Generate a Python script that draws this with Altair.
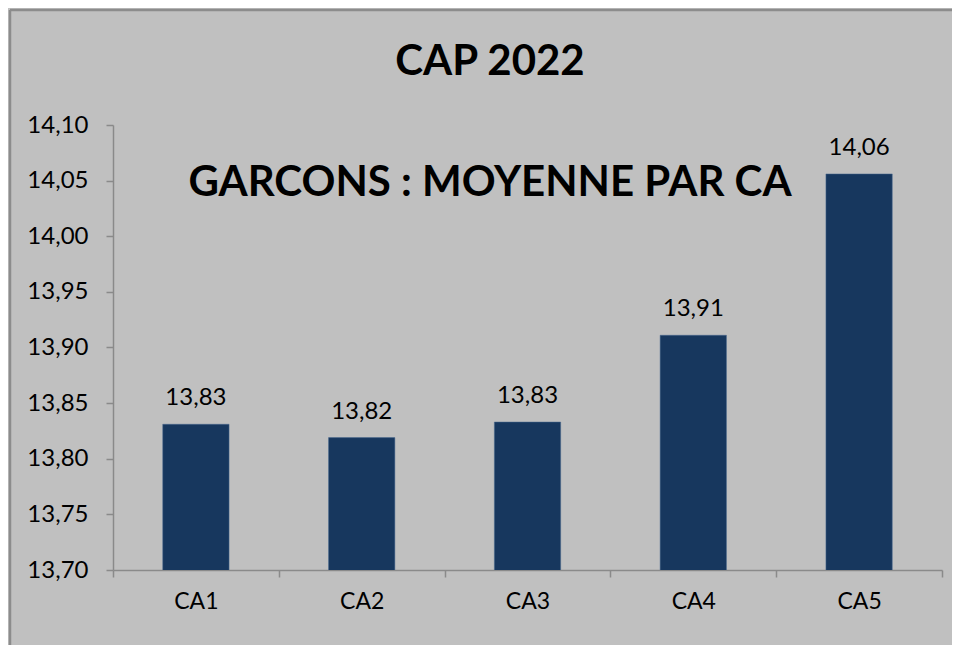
import altair as alt
import pandas as pd

categories = ["CA1", "CA2", "CA3", "CA4", "CA5"]
values = [13.831, 13.819, 13.833, 13.911, 14.056]
labels = ["13,83", "13,82", "13,83", "13,91", "14,06"]
y_ticks = [13.70, 13.75, 13.80, 13.85, 13.90, 13.95, 14.00, 14.05, 14.10]
title_text = "CAP 2022"
subtitle_text = "GARCONS : MOYENNE PAR CA"

df = pd.DataFrame({"ca": categories, "moyenne": values, "label": labels})

FONT = "Lato"
W, H = 829, 445

x_enc = alt.X("ca:N", sort=categories, title=None,
              scale=alt.Scale(paddingInner=0, paddingOuter=0),
              axis=alt.Axis(labelAngle=0, labelFontSize=23, labelFont=FONT, labelColor="black",
                            labelPadding=13, tickBand="extent", tickSize=7, tickColor="#8a8a8a",
                            domainColor="#8a8a8a", domainWidth=1.5, tickWidth=1.5))
y_enc = alt.Y("moyenne:Q", title=None,
              scale=alt.Scale(domain=[13.70, 14.10], zero=False, nice=False),
              axis=alt.Axis(values=y_ticks, grid=False, labelFontSize=24, labelFont=FONT,
                            labelColor="black", labelPadding=18, tickSize=7,
                            tickColor="#8a8a8a", domainColor="#8a8a8a", domainWidth=1.5,
                            tickWidth=1.5,
                            labelExpr="replace(format(datum.value, '.2f'), '.', ',')"))

bars = alt.Chart(df).mark_bar(color="#17375e", stroke="#4a6a90", strokeWidth=0.5, clip=True,
                              width=alt.RelativeBandSize(0.4)).encode(x=x_enc, y=y_enc)

texts = alt.Chart(df).mark_text(font=FONT, fontSize=24, color="black", baseline="bottom", dy=-14).encode(
    x=alt.X("ca:N", sort=categories), y=alt.Y("moyenne:Q"), text="label:N")

title = alt.Chart(pd.DataFrame({"t": [title_text]})).mark_text(
    font=FONT, fontSize=42, fontWeight="bold", color="black", align="center", baseline="middle"
).encode(x=alt.value(377), y=alt.value(-63), text="t:N")

subtitle = alt.Chart(pd.DataFrame({"t": [subtitle_text]})).mark_text(
    font=FONT, fontSize=42, fontWeight="bold", color="black", align="center", baseline="middle"
).encode(x=alt.value(377), y=alt.value(58), text="t:N")

border_top = alt.Chart(pd.DataFrame({"a": [0]})).mark_rule(color="#8c8c8c", strokeWidth=2.5).encode(
    x=alt.value(-103), x2=alt.value(860), y=alt.value(-115))
border_left = alt.Chart(pd.DataFrame({"a": [0]})).mark_rule(color="#8c8c8c", strokeWidth=2.5).encode(
    x=alt.value(-103), y=alt.value(-115), y2=alt.value(560))

chart = alt.layer(bars, texts, title, subtitle, border_top, border_left).properties(
    width=W, height=H,
    autosize=alt.AutoSizeParams(type="none"),
    padding={"left": 105, "top": 117, "right": 10, "bottom": 90},
    background="#c0c0c0",
).configure_view(stroke=None)

chart.save("out.html", embed_options={"renderer": "svg", "actions": False})
